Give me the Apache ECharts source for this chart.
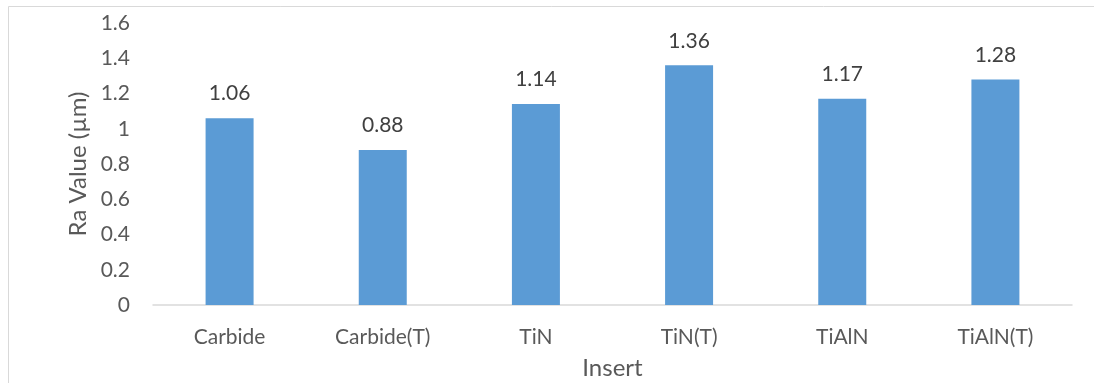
<!DOCTYPE html>
<html>
<head>
<meta charset="utf-8">
<script src="https://cdn.jsdelivr.net/npm/echarts@6/dist/echarts.min.js"></script>
<style>
  html, body { margin: 0; padding: 0; background: #fff; }
  #chart { width: 1094px; height: 383px; }
</style>
</head>
<body>
<div id="chart"></div>
<script>
// Surface roughness per insert type
const inserts = ['Carbide', 'Carbide(T)', 'TiN', 'TiN(T)', 'TiAlN', 'TiAlN(T)'];
const raValues = [1.06, 0.88, 1.14, 1.36, 1.17, 1.28];
const yTicks = [0, 0.2, 0.4, 0.6, 0.8, 1, 1.2, 1.4, 1.6];

const FONT = 'Lato, "Open Sans", sans-serif';

const chart = echarts.init(document.getElementById('chart'), null, { renderer: 'canvas' });
chart.setOption({
  animation: false,
  backgroundColor: '#ffffff',
  textStyle: { fontFamily: FONT },
  graphic: [{
    type: 'rect',
    silent: true,
    shape: { x: 8.5, y: 6.5, width: 1200, height: 500 },
    style: { fill: 'none', stroke: '#d9d9d9', lineWidth: 1 }
  }],
  grid: { left: 153, right: 22, top: 23, bottom: 78, containLabel: false, outerBoundsMode: 'none' },
  xAxis: {
    type: 'category',
    data: inserts,
    name: 'Insert',
    nameLocation: 'middle',
    nameGap: 51,
    nameTextStyle: { color: '#595959', fontSize: 24, fontFamily: FONT },
    axisLine: { lineStyle: { color: '#d9d9d9', width: 1.5 } },
    axisTick: { show: false },
    axisLabel: { color: '#595959', fontSize: 21, margin: 22, fontFamily: FONT }
  },
  yAxis: {
    type: 'value',
    min: yTicks[0],
    max: yTicks[yTicks.length - 1],
    interval: 0.2,
    name: 'Ra Value (µm)',
    nameLocation: 'middle',
    nameGap: 63,
    nameTextStyle: { color: '#595959', fontSize: 24, fontFamily: FONT },
    axisLine: { show: false },
    axisTick: { show: false },
    splitLine: { show: false },
    axisLabel: {
      color: '#595959', fontSize: 21, margin: 23, fontFamily: FONT,
      formatter: v => String(Math.round(v * 10) / 10)
    }
  },
  series: [{
    type: 'bar',
    data: raValues,
    barWidth: 48,
    itemStyle: { color: '#5b9bd5' },
    label: {
      show: true,
      position: 'top',
      distance: 14,
      color: '#404040',
      fontSize: 21,
      fontFamily: FONT,
      formatter: p => p.value.toFixed(2)
    }
  }]
});
</script>
</body>
</html>
